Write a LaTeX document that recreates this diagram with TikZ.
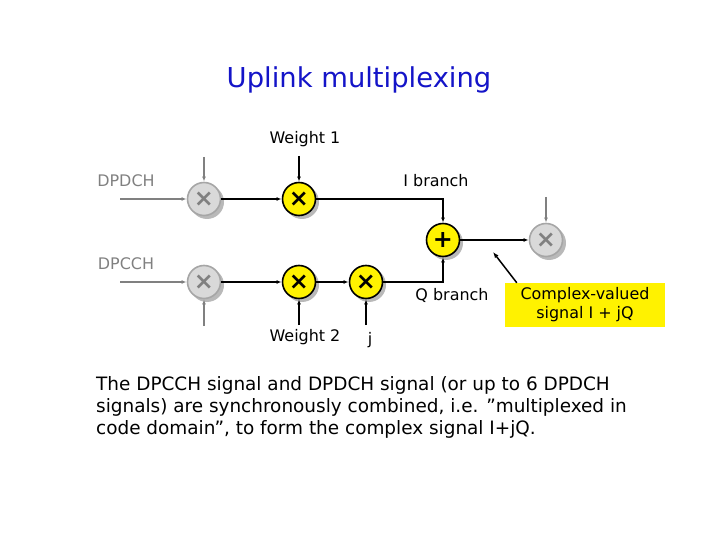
\documentclass[tikz,border=0pt]{standalone}
\usepackage{fontspec}
\setmainfont{DejaVu Sans}
\usetikzlibrary{arrows.meta}
\begin{document}
\begin{tikzpicture}[x=1bp,y=-1bp,
  yc/.style={circle,draw=black,line width=1.6bp,fill=yellow,minimum size=33bp,inner sep=0pt,font=\fontsize{24}{24}\selectfont\bfseries},
  gc/.style={circle,draw=gray!70,line width=1.6bp,fill=gray!30,text=gray,minimum size=33bp,inner sep=0pt,font=\fontsize{24}{24}\selectfont\bfseries},
  ln/.style={line width=1.2bp,-{Latex[length=5bp]}},
  gl/.style={line width=1.2bp,draw=gray,-{Latex[length=5bp]}},
  lbl/.style={font=\fontsize{16}{19}\selectfont}]
\useasboundingbox (0,0) rectangle (720,540);
\node[font=\fontsize{27.5}{30}\selectfont,text={rgb,255:red,20;green,20;blue,200}] (title) at (359,80) {Uplink multiplexing};
\foreach \n/\x/\y in {g1/204/199,g2/204/282,g3/546/240}{
  \fill[gray!55] (\x+3,\y+3) circle (17bp);
  \node[gc] (\n) at (\x,\y) {×};}
\foreach \n/\x/\y/\t in {m1/299/199/×,m2/299/282/×,m3/366/282/×,s/443/240/+}{
  \fill[gray!55] (\x+3,\y+3) circle (17bp);
  \node[yc] (\n) at (\x,\y) {\t};}
\coordinate (a1) at (120,199); \coordinate (a2) at (120,282);
\coordinate (t1) at (204,157); \coordinate (t2) at (204,326);
\coordinate (t3) at (299,156); \coordinate (t4) at (299,325);
\coordinate (t5) at (366,325); \coordinate (t6) at (546,197);
\draw[gl] (a1) -- (g1); \draw[gl] (a2) -- (g2);
\draw[gl] (t1) -- (g1); \draw[gl] (t2) -- (g2); \draw[gl] (t6) -- (g3);
\draw[ln] (g1) -- (m1); \draw[ln] (g2) -- (m2); \draw[ln] (m2) -- (m3);
\draw[ln] (t3) -- (m1); \draw[ln] (t4) -- (m2); \draw[ln] (t5) -- (m3);
\draw[ln] (m1) -| (s); \draw[ln] (m3) -| (s); \draw[ln] (s) -- (g3);
\node[lbl,text=gray] (l1) at (126,181) {DPDCH};
\node[lbl,text=gray] (l2) at (126,264) {DPCCH};
\node[lbl] (w1) at (305,139) {Weight 1};
\node[lbl] (w2) at (305,337) {Weight 2};
\node[lbl] (j) at (370,340) {j};
\node[lbl] (ib) at (436,181) {I branch};
\node[lbl] (qb) at (452,295) {Q branch};
\node[lbl,fill=yellow,minimum width=160bp,minimum height=44bp,align=center,inner sep=1bp] (cv) at (585,305) {Complex-valued\\signal I + j\kern0ptQ};
\coordinate (ct) at (493,252);
\draw[line width=1.5bp,-{Latex[length=6bp]}] (cv.north west) ++(12,0) -- (ct);
\node[font=\fontsize{18.5}{22}\selectfont,anchor=north west,align=left,inner sep=0pt] (body) at (96,376) {The DPCCH signal and DPDCH signal (or up to 6 DPDCH\\signals) are synchronously combined, i.e. ”multiplexed in\\code domain”, to form the complex signal I+jQ.};
\end{tikzpicture}
\end{document}
